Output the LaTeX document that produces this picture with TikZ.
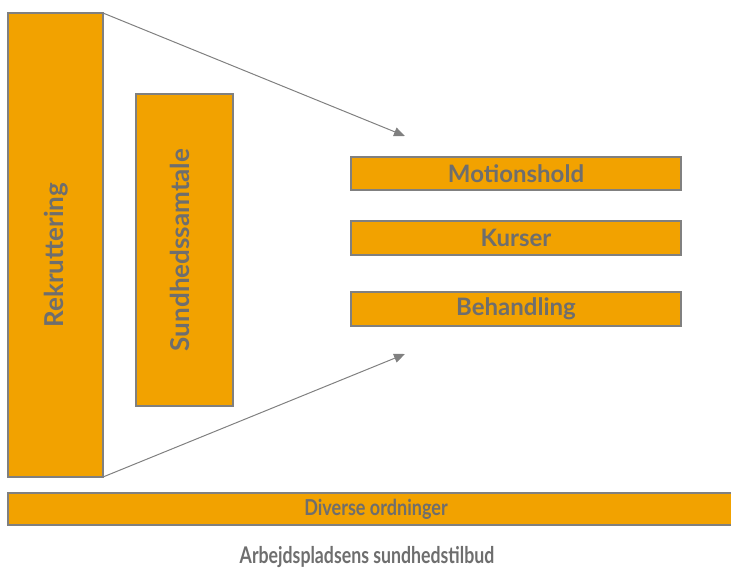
\documentclass[tikz,border=0pt]{standalone}
\usepackage{fontspec}
\usepackage{graphicx}
\setmainfont{Lato}
\usetikzlibrary{arrows.meta}
\definecolor{boxfill}{HTML}{F2A200}
\definecolor{boxline}{HTML}{808080}
\definecolor{txt}{HTML}{6E6E6E}
\begin{document}
\begin{tikzpicture}[x=1pt,y=-1pt,
  bar/.style={draw=boxline,line width=1.2pt,fill=boxfill},
  lbl/.style={text=txt,font=\bfseries\fontsize{24}{28}\selectfont},
  vlbl/.style={text=txt,rotate=90,font=\bfseries\fontsize{26}{30}\selectfont},
  slbl/.style={text=txt,font=\bfseries\fontsize{22}{26}\selectfont},
  arr/.style={draw=boxline,line width=1pt,-{Triangle[length=11pt,width=9pt]}}]
\useasboundingbox (0,0) rectangle (731,568);
\filldraw[bar] (8,13) rectangle (103,477);
\coordinate (rtop) at (103,13);
\coordinate (rbot) at (103,477);
\filldraw[bar] (136,94) rectangle (233,406);
\filldraw[bar] (351,157) rectangle (681,190);
\filldraw[bar] (351,221) rectangle (681,255);
\filldraw[bar] (351,292) rectangle (681,326);
\filldraw[bar] (8,493) rectangle (740,525);
\node[vlbl] (rek) at (56,255) {Rekruttering};
\node[vlbl] (sun) at (180,250) {Sundhedssamtale};
\node[lbl] (mot) at (516,173.5) {Motionshold};
\node[lbl] (kur) at (516,238) {Kurser};
\node[lbl] (beh) at (516,309) {Behandling};
\node[slbl] (div) at (376,509) {\scalebox{0.82}[1]{Diverse ordninger}};
\node[slbl,font=\bfseries\fontsize{23}{27}\selectfont] (cap) at (367,557) {\scalebox{0.77}[1]{Arbejdspladsens sundhedstilbud}};
\coordinate (atop) at (405,136);
\coordinate (abot) at (405,354);
\draw[arr] (rtop) -- (atop);
\draw[arr] (rbot) -- (abot);
\end{tikzpicture}
\end{document}
